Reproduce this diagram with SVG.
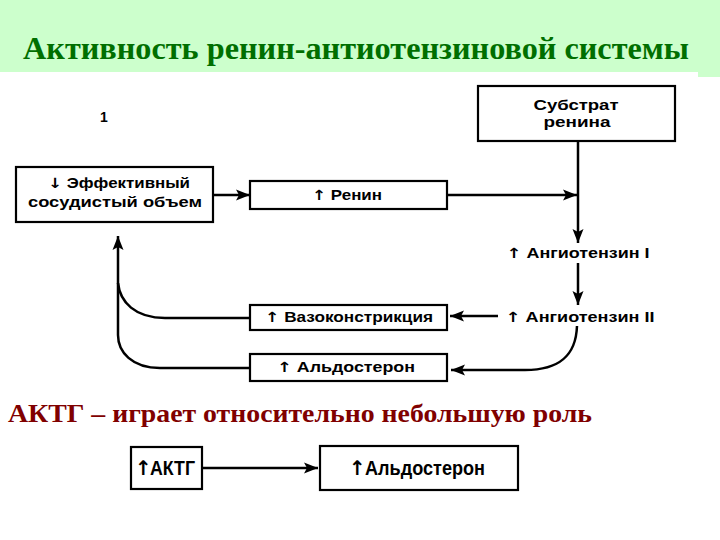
<svg xmlns="http://www.w3.org/2000/svg" width="720" height="540" viewBox="0 0 720 540">
<defs>
<marker id="ah" markerUnits="userSpaceOnUse" markerWidth="16" markerHeight="12" refX="14" refY="6" orient="auto">
<path d="M0,0.5 L14,6 L0,11.5 L3,6 Z" fill="#000"/>
</marker>
<style>
.box{fill:#fff;stroke:#000;stroke-width:2.2}
.t{font-family:"Liberation Sans",Arial,sans-serif;font-weight:bold;font-size:14px;fill:#000;text-anchor:middle}
.c{fill:none;stroke:#000;stroke-width:2.5}
.n{font-family:"Liberation Sans Narrow","Liberation Sans",Arial,sans-serif;font-weight:bold;font-size:20px;fill:#000}
.ar{font-family:"DejaVu Sans",sans-serif;fill:#000}
</style>
</defs>
<rect width="720" height="540" fill="#fff"/>
<g id="banner">
<rect x="0" y="0" width="720" height="72" fill="#ccffcc"/>
<rect x="698" y="72" width="22" height="5" fill="#ccffcc"/>
<text x="356" y="59" font-family="Liberation Serif,'Times New Roman',serif" font-weight="bold" font-size="31" fill="#006f00" text-anchor="middle" textLength="666" lengthAdjust="spacingAndGlyphs">Активность ренин-антиотензиновой системы</text>
</g>
<g id="label1"><text class="t" x="104" y="122" font-size="14">1</text></g>
<g id="substrate">
<rect class="box" x="478" y="86" width="197" height="55"/>
<text class="t" x="576" y="110" textLength="85" lengthAdjust="spacingAndGlyphs">Субстрат</text>
<text class="t" x="577" y="127" textLength="67" lengthAdjust="spacingAndGlyphs">ренина</text>
</g>
<g id="volume">
<rect class="box" x="16" y="167" width="197" height="55"/>
<text class="t" x="119" y="188" textLength="142" lengthAdjust="spacingAndGlyphs"><tspan class="ar">↓</tspan> Эффективный</text>
<text class="t" x="115" y="207" textLength="174" lengthAdjust="spacingAndGlyphs">сосудистый объем</text>
</g>
<g id="renin">
<rect class="box" x="250" y="181" width="197" height="28"/>
<text class="t" x="347" y="200" textLength="70" lengthAdjust="spacingAndGlyphs"><tspan class="ar">↑</tspan> Ренин</text>
</g>
<g id="ang1"><text class="t" x="578" y="258" textLength="143" lengthAdjust="spacingAndGlyphs"><tspan class="ar">↑</tspan> Ангиотензин I</text></g>
<g id="ang2"><text class="t" x="580" y="322" textLength="149" lengthAdjust="spacingAndGlyphs"><tspan class="ar">↑</tspan> Ангиотензин II</text></g>
<g id="vaso">
<rect class="box" x="250" y="305" width="197" height="25"/>
<text class="t" x="349" y="322" textLength="168" lengthAdjust="spacingAndGlyphs"><tspan class="ar">↑</tspan> Вазоконстрикция</text>
</g>
<g id="aldo1">
<rect class="box" x="250" y="354" width="197" height="27"/>
<text class="t" x="346" y="372" textLength="138" lengthAdjust="spacingAndGlyphs"><tspan class="ar">↑</tspan> Альдостерон</text>
</g>
<g id="acth">
<rect class="box" x="131" y="447" width="71" height="42"/>
<text class="n ar" x="135" y="475" font-size="14">↑</text>
<text class="n" x="150" y="475" textLength="45" lengthAdjust="spacingAndGlyphs">АКТГ</text>
</g>
<g id="aldo2">
<rect class="box" x="320" y="446" width="198" height="44"/>
<text class="n ar" x="349" y="475" font-size="16">↑</text>
<text class="n" x="365" y="475" textLength="120" lengthAdjust="spacingAndGlyphs">Альдостерон</text>
</g>
<g id="note"><text x="8" y="422" font-family="Liberation Serif,'Times New Roman',serif" font-weight="bold" font-size="26" fill="#800000" textLength="584" lengthAdjust="spacingAndGlyphs">АКТГ – играет относительно небольшую роль</text></g>
<g id="connectors">
<line class="c" x1="213" y1="195" x2="250" y2="195" marker-end="url(#ah)"/>
<line class="c" x1="447" y1="195" x2="577" y2="195" marker-end="url(#ah)"/>
<line class="c" x1="578" y1="141" x2="578" y2="243" marker-end="url(#ah)"/>
<line class="c" x1="578" y1="263" x2="578" y2="305" marker-end="url(#ah)"/>
<line class="c" x1="498" y1="316" x2="450" y2="316" marker-end="url(#ah)"/>
<path class="c" d="M577,326 C576,355 560,370 525,370 L451,370" marker-end="url(#ah)"/>
<path class="c" d="M250,318 L165,318 C135,318 120,302 118,283 L118,236" marker-end="url(#ah)"/>
<path class="c" d="M250,368 L160,368 C132,368 118,352 118,335 L118,283"/>
<line class="c" x1="202" y1="468" x2="318" y2="468" marker-end="url(#ah)"/>
</g>
</svg>
